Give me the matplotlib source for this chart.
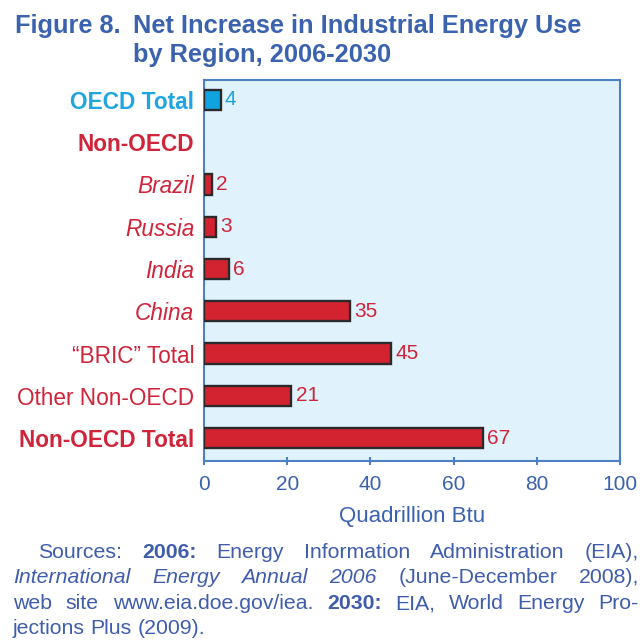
import matplotlib
matplotlib.use("Agg")
import matplotlib.pyplot as plt

plt.rcParams['font.family'] = ['Liberation Sans', 'DejaVu Sans']

# Data: net increase 2006-2030, quadrillion Btu
categories = ["OECD Total", "Non-OECD", "Brazil", "Russia", "India", "China",
              "\u201cBRIC\u201d Total", "Other Non-OECD", "Non-OECD Total"]
values = [4, None, 2, 3, 6, 35, 45, 21, 67]
label_weights = ["bold", "bold", "normal", "normal", "normal", "normal",
                 "normal", "normal", "bold"]
label_styles = ["normal", "normal", "italic", "italic", "italic", "italic",
                "normal", "normal", "normal"]
x_ticks = [0, 20, 40, 60, 80, 100]

BLUE_BAR = "#11A3DF"
BLUE_TXT = "#1FA5E0"
RED = "#D42330"
RED_TXT = "#D0243A"
NAVY = "#3A62AE"
SPINE = "#5080C4"

fig = plt.figure(figsize=(6.4, 6.4), dpi=100)
ax = fig.add_axes([204 / 640, 1 - 461 / 640, 416 / 640, 381 / 640])
ax.set_facecolor("#E0F2FC")

for i, (cat, v) in enumerate(zip(categories, values)):
    col_bar = BLUE_BAR if i == 0 else RED
    col_txt = BLUE_TXT if i == 0 else RED_TXT
    if v is not None:
        ax.barh(i, v, height=0.48, color=col_bar, edgecolor="#2a2a2a",
                linewidth=1.7, zorder=3)
        ax.annotate(str(v), (v, i), xytext=(3, 0), textcoords="offset points",
                    va="center", ha="left", fontsize=15, color=col_txt)

ax.set_yticks(range(len(categories)))
ax.set_yticklabels(categories)
for lab, w, s, i in zip(ax.get_yticklabels(), label_weights, label_styles,
                        range(len(categories))):
    lab.set_fontweight(w)
    lab.set_fontstyle(s)
    lab.set_fontsize(16.3)
    lab.set_color(BLUE_TXT if i == 0 else RED_TXT)
ax.tick_params(axis="y", length=0, pad=7)

ax.set_xlim(0, 100)
ax.set_ylim(8.54, -0.47)
ax.set_xticks(x_ticks)
ax.set_xticklabels([str(t) for t in x_ticks])
ax.tick_params(axis="x", direction="inout", length=6, width=1.5, color=SPINE,
               labelcolor=NAVY, labelsize=15, pad=7)
for sp in ax.spines.values():
    sp.set_color(SPINE)
    sp.set_linewidth(1.5)
ax.set_xlabel("Quadrillion Btu", fontsize=16, color=NAVY, labelpad=9)

# Title
fig.text(15 / 640, 1 - 33 / 640, "Figure 8.", fontsize=18.3, fontweight="bold",
         color=NAVY, va="baseline", ha="left")
fig.text(133 / 640, 1 - 33 / 640, "Net Increase in Industrial Energy Use",
         fontsize=18.3, fontweight="bold", color=NAVY, va="baseline", ha="left")
fig.text(133 / 640, 1 - 62 / 640, "by Region, 2006-2030",
         fontsize=18.3, fontweight="bold", color=NAVY, va="baseline", ha="left")

# Justified source note
SRC = "#3F5DAC"
src_lines = [
    (38, 558, True, [("Sources:", "normal", "normal"), ("2006:", "bold", "normal"),
                     ("Energy", "normal", "normal"), ("Information", "normal", "normal"),
                     ("Administration", "normal", "normal"), ("(EIA),", "normal", "normal")]),
    (13, 583, True, [("International", "normal", "italic"), ("Energy", "normal", "italic"),
                     ("Annual", "normal", "italic"), ("2006", "normal", "italic"),
                     ("(June-December", "normal", "normal"), ("2008),", "normal", "normal")]),
    (13, 609, True, [("web", "normal", "normal"), ("site", "normal", "normal"),
                     ("www.eia.doe.gov/iea.", "normal", "normal"), ("2030:", "bold", "normal"),
                     ("EIA,", "normal", "normal"), ("World", "normal", "normal"),
                     ("Energy", "normal", "normal"), ("Pro-", "normal", "normal")]),
    (13, 634, False, [("jections", "normal", "normal"), ("Plus", "normal", "normal"),
                      ("(2009).", "normal", "normal")]),
]
right_px = 639
renderer = fig.canvas.get_renderer()
for x0, yb, justify, words in src_lines:
    texts = [fig.text(0, 1 - yb / 640, w, fontsize=15.3, fontweight=fw, fontstyle=fs,
                      color=SRC, va="baseline", ha="left")
             for w, fw, fs in words]
    widths = [t.get_window_extent(renderer).width for t in texts]
    if justify:
        gap = (right_px - x0 - sum(widths)) / (len(texts) - 1)
    else:
        gap = 5.5
    x = x0
    for t, w in zip(texts, widths):
        t.set_x(x / 640)
        x += w + gap

fig.savefig("out.png", dpi=100)
